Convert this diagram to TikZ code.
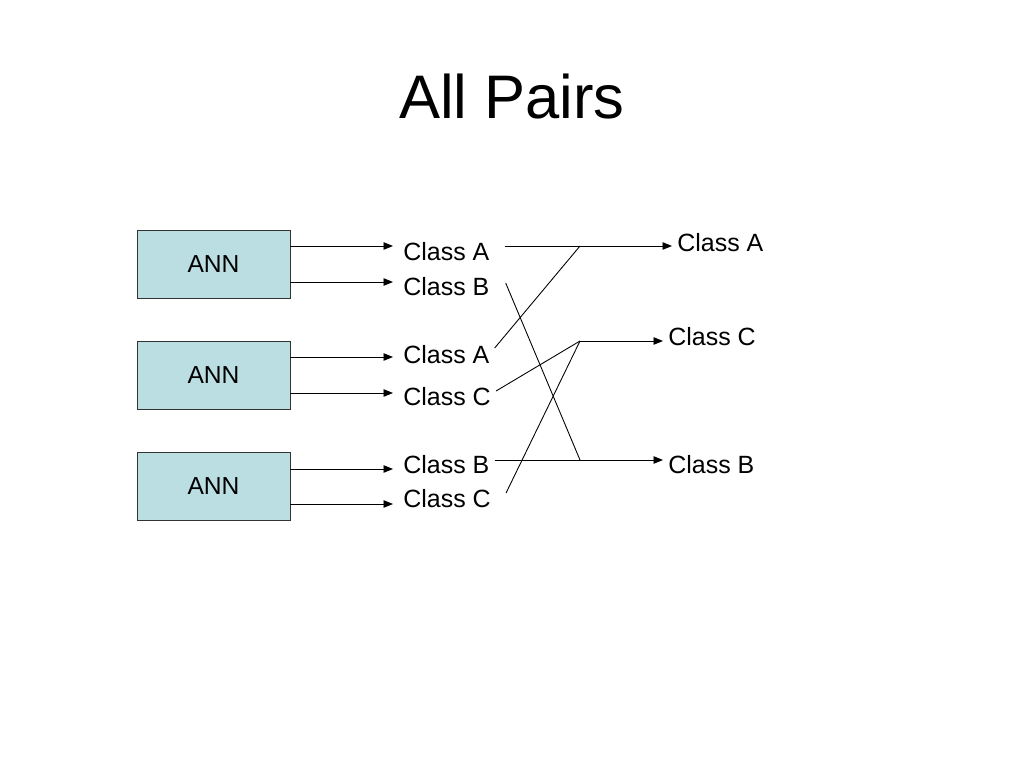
\documentclass[tikz,border=0pt]{standalone}
\usepackage{fontspec}
\setmainfont{Liberation Sans}
\usepackage{tikz}
\usetikzlibrary{calc,arrows.meta}
\definecolor{annblue}{RGB}{187,222,227}
\tikzset{
    ann/.style={
        draw=black!80,
        fill=annblue,
        line width=0.45pt,
        minimum width=3.06cm,
        minimum height=1.36cm,
        font=\fontsize{14}{17}\selectfont
    },
    classout/.style={
        anchor=west,
        inner xsep=0.2cm,
        inner ysep=0pt,
        font=\fontsize{14.2}{17}\selectfont
    },
    classvote/.style={
        anchor=west,
        inner xsep=0.1cm,
        inner ysep=0pt,
        font=\fontsize{14.2}{17}\selectfont
    },
    outarrow/.style={
        line width=0.5pt,
        -{Triangle[length=0.19cm,width=0.15cm]}
    },
    pairline/.style={
        line width=0.5pt
    }
}

\begin{document}
\begin{tikzpicture}
    \useasboundingbox (0,0) rectangle (20.48,-15.36);

    %% Title
    \node (title) at (10.24,-1.94) {\fontsize{35}{42}\selectfont All Pairs};

    %% the three networks
    \node (ann1) [ann] at (4.27,-5.28) {ANN};
    \node (ann2) [ann] at (4.27,-7.50) {ANN};
    \node (ann3) [ann] at (4.27,-9.72) {ANN};

    %% their outputs
    \node (a1) [classout] at (7.86,-5.04) {Class A};
    \node (b1) [classout] at (7.86,-5.74) {Class B};
    \node (a2) [classout] at (7.86,-7.10) {Class A};
    \node (c2) [classout] at (7.86,-7.94) {Class C};
    \node (b3) [classout] at (7.86,-9.30) {Class B};
    \node (c3) [classout] at (7.86,-9.98) {Class C};

    \coordinate (o1a) at ($(ann1.east)+(0,0.36)$);
    \coordinate (o1b) at ($(ann1.east)+(0,-0.36)$);
    \coordinate (o2a) at ($(ann2.east)+(0,0.36)$);
    \coordinate (o2c) at ($(ann2.east)+(0,-0.36)$);
    \coordinate (o3b) at ($(ann3.east)+(0,0.34)$);
    \coordinate (o3c) at ($(ann3.east)+(0,-0.36)$);

    \draw[outarrow] (o1a) -- (o1a -| a1.west);
    \draw[outarrow] (o1b) -- (o1b -| b1.west);
    \draw[outarrow] (o2a) -- (o2a -| a2.west);
    \draw[outarrow] (o2c) -- (o2c -| c2.west);
    \draw[outarrow] (o3b) -- (o3b -| b3.west);
    \draw[outarrow] (o3c) -- (o3c -| c3.west);

    %% votes
    \coordinate (jA) at (11.60,-4.92);
    \coordinate (jC) at (11.60,-6.82);
    \coordinate (jB) at (11.60,-9.20);

    \node (fA) [classvote] at (13.44,-4.86) {Class A};
    \node (fC) [classvote] at (13.26,-6.74) {Class C};
    \node (fB) [classvote] at (13.26,-9.30) {Class B};

    \draw[pairline] ([xshift=0.1cm]a1.east |- jA) -- (jA);
    \draw[pairline] ([xshift=0.12cm,yshift=0.08cm]b1.east) -- (jB);
    \draw[pairline] ([xshift=-0.1cm,yshift=0.14cm]a2.east) -- (jA);
    \draw[pairline] ([xshift=-0.1cm,yshift=0.12cm]c2.east) -- (jC);
    \draw[pairline] ([xshift=-0.1cm]b3.east |- jB) -- (jB);
    \draw[pairline] ([xshift=0.1cm,yshift=0.12cm]c3.east) -- (jC);

    \draw[outarrow] (jA) -- (jA -| fA.west);
    \draw[outarrow] (jC) -- (jC -| fC.west);
    \draw[outarrow] (jB) -- (jB -| fB.west);

\end{tikzpicture}
\end{document}
